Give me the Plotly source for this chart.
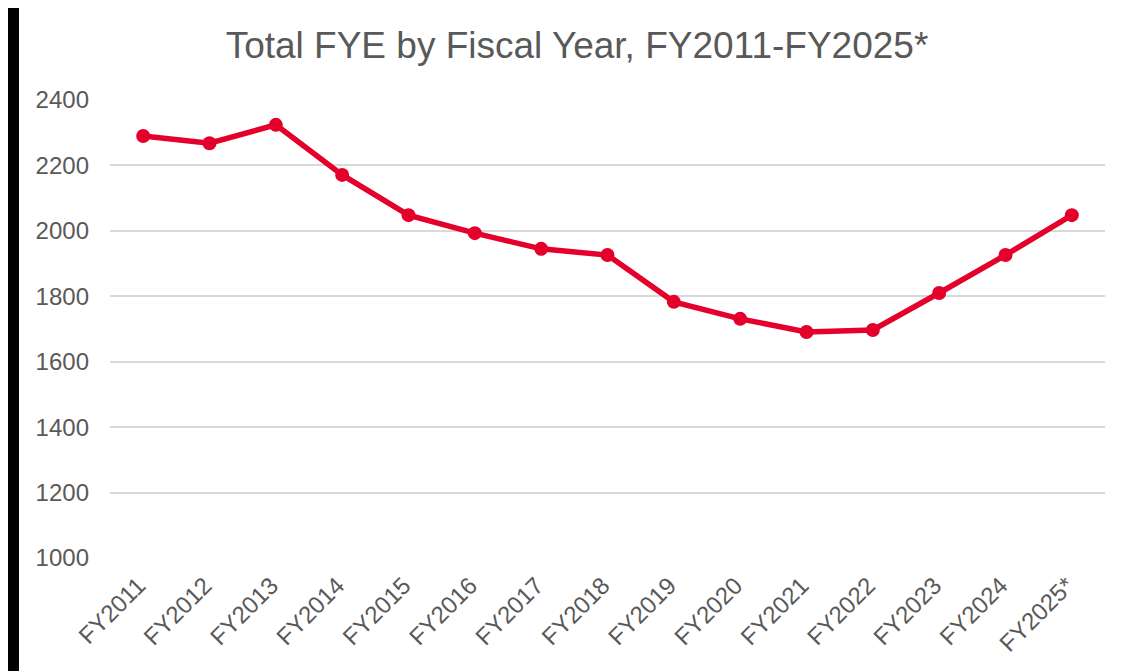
import plotly.graph_objects as go

categories = ["FY2011", "FY2012", "FY2013", "FY2014", "FY2015", "FY2016", "FY2017",
              "FY2018", "FY2019", "FY2020", "FY2021", "FY2022", "FY2023", "FY2024", "FY2025*"]
fye = [2290, 2268, 2324, 2171, 2048, 1993, 1945, 1926, 1783, 1731, 1691, 1697, 1810, 1926, 2048]
y_ticks = [1000, 1200, 1400, 1600, 1800, 2000, 2200, 2400]

W, H = 1140, 671
OFF = 8  # page offset of the figure
pw, ph = 995, 458
L, T = 110 - OFF, 100 - OFF
R, B = W - L - pw, H - T - ph

fig = go.Figure()
fig.add_trace(go.Scatter(
    x=list(range(len(categories))), y=fye, mode="lines+markers",
    line=dict(color="#E4002B", width=5.5),
    marker=dict(color="#E4002B", size=14),
    showlegend=False,
))

# white card with black frame (screen coords -> paper coords)
sx0, sx1, sy0 = 19 - OFF, 1137 - OFF, 4 - OFF
fig.update_layout(
    width=W, height=H,
    margin=dict(l=L, r=R, t=T, b=B),
    paper_bgcolor="black", plot_bgcolor="white",
    font=dict(family="Liberation Sans, Arial", color="#595959"),
    title=dict(text="Total FYE by Fiscal Year, FY2011-FY2025*", x=(577 - OFF) / W,
               xref="container", xanchor="center", y=1 - (45 - OFF) / H,
               yanchor="middle", font=dict(size=37, color="#595959")),
    xaxis=dict(range=[-0.5, len(categories) - 0.5], tickmode="array",
               tickvals=list(range(len(categories))),
               ticktext=[c + "\u00a0" for c in categories],
               tickangle=-45, showgrid=False, zeroline=False, showline=False,
               tickfont=dict(size=24, color="#595959"), ticks="", ticklabelstandoff=3),
    yaxis=dict(range=[1000, 2400], tickvals=y_ticks, showgrid=True,
               gridcolor="#D9D9D9", gridwidth=1.5, zeroline=False, showline=False,
               tickfont=dict(size=24, color="#595959"), ticklabelstandoff=20),
    shapes=[dict(type="rect", xref="paper", yref="paper", layer="below",
                 x0=(sx0 - L) / pw, x1=(sx1 - L) / pw,
                 y0=(T + ph - (H + 50)) / ph, y1=(T + ph - sy0) / ph,
                 fillcolor="white", line=dict(width=0))],
)
fig.write_html("out.html")
